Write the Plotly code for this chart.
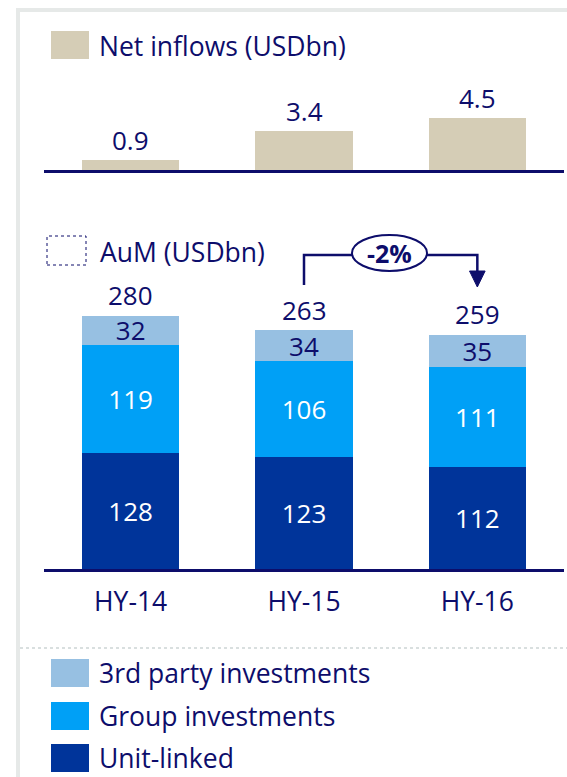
import plotly.graph_objects as go

categories = ["HY-14", "HY-15", "HY-16"]
net_inflows = [0.9, 3.4, 4.5]
third_party = [32, 34, 35]
group_inv = [119, 106, 111]
unit_linked = [128, 123, 112]
aum_total = [280, 263, 259]
change_label = "-2%"

W, H = 567, 777
NAVY = "#0d0d6b"
BEIGE = "#d5cdb6"
C_3RD = "#97c0e2"
C_GRP = "#00a0f6"
C_UL = "#00349a"
FRAME = "#e6e9e8"
FONT = "Open Sans"
FS = 26     # numbers
FT = 26.5   # texts


def px(x):
    return x / W


def py(y):
    return 1 - y / H


fig = go.Figure()

# top chart: net inflows
fig.add_trace(go.Bar(x=categories, y=net_inflows, marker=dict(color=BEIGE, line=dict(width=0)),
                     width=0.56, xaxis="x", yaxis="y", showlegend=False, hoverinfo="skip"))

# bottom chart: AuM stacked
for vals, col, tcol, name in [(unit_linked, C_UL, "white", "Unit-linked"),
                              (group_inv, C_GRP, "white", "Group investments"),
                              (third_party, C_3RD, NAVY, "3rd party investments")]:
    fig.add_trace(go.Bar(x=categories, y=vals, name=name, marker=dict(color=col, line=dict(width=0)),
                         width=0.56, xaxis="x2", yaxis="y2", showlegend=False,
                         text=[str(v) for v in vals], textposition="inside", textangle=0,
                         insidetextanchor="middle", constraintext="none",
                         textfont=dict(color=tcol, size=FS, family=FONT), hoverinfo="skip"))

annotations = []
for c, v in zip(categories, net_inflows):
    annotations.append(dict(x=c, y=v, xref="x", yref="y", text=f"{v:.1f}", showarrow=False,
                            yanchor="middle", yshift=20, font=dict(size=FS, color=NAVY, family=FONT)))
for c, v in zip(categories, aum_total):
    annotations.append(dict(x=c, y=v, xref="x2", yref="y2", text=str(v), showarrow=False,
                            yanchor="middle", yshift=20, font=dict(size=FS, color=NAVY, family=FONT)))

# legend texts
leg_font = dict(size=FT, color=NAVY, family=FONT)
annotations.append(dict(x=px(97), y=py(46), xref="paper", yref="paper", text="Net inflows (USDbn)",
                        showarrow=False, xanchor="left", yanchor="middle", font=leg_font))
annotations.append(dict(x=px(98), y=py(252), xref="paper", yref="paper", text="AuM (USDbn)",
                        showarrow=False, xanchor="left", yanchor="middle", font=leg_font))
legend_items = [("3rd party investments", C_3RD, 673), ("Group investments", C_GRP, 716),
                ("Unit-linked", C_UL, 758)]
shapes = []
for name, col, yc in legend_items:
    annotations.append(dict(x=px(97), y=py(yc), xref="paper", yref="paper", text=name,
                            showarrow=False, xanchor="left", yanchor="middle", font=leg_font))
    shapes.append(dict(type="rect", xref="paper", yref="paper", x0=px(51), x1=px(89),
                       y0=py(yc - 14), y1=py(yc + 14), fillcolor=col, line=dict(width=0)))

# frame
shapes.append(dict(type="line", xref="paper", yref="paper", x0=px(16), x1=1, y0=py(10), y1=py(10),
                   line=dict(color=FRAME, width=4)))
shapes.append(dict(type="line", xref="paper", yref="paper", x0=px(18), x1=px(18), y0=py(8), y1=0,
                   line=dict(color=FRAME, width=4)))
# dotted separator
shapes.append(dict(type="line", xref="paper", yref="paper", x0=px(20), x1=1, y0=py(648), y1=py(648),
                   line=dict(color="#d9dfdf", width=2, dash="dot")))
# net inflows legend key
shapes.append(dict(type="rect", xref="paper", yref="paper", x0=px(51), x1=px(89), y0=py(59), y1=py(31),
                   fillcolor=BEIGE, line=dict(width=0)))
# AuM legend key (dotted)
shapes.append(dict(type="rect", xref="paper", yref="paper", x0=px(47), x1=px(86), y0=py(265), y1=py(236),
                   fillcolor="rgba(0,0,0,0)", line=dict(color=NAVY, width=1, dash="dot")))

# change bracket between HY-15 and HY-16
shapes.append(dict(type="path", xref="x2", yref="paper",
                   path=f"M 1,{py(285)} L 1,{py(255)} L 2,{py(255)} L 2,{py(273)}",
                   line=dict(color=NAVY, width=2.5)))
shapes.append(dict(type="path", xref="x2", yref="paper",
                   path=f"M 1.955,{py(271)} L 2.045,{py(271)} L 2,{py(287)} Z",
                   fillcolor=NAVY, line=dict(color=NAVY, width=1)))
shapes.append(dict(type="circle", xref="paper", yref="paper", x0=px(352), x1=px(427),
                   y0=py(271), y1=py(235), fillcolor="white", line=dict(color=NAVY, width=2)))
annotations.append(dict(x=px(389.5), y=py(253), xref="paper", yref="paper", text=f"<b>{change_label}</b>",
                        showarrow=False, xanchor="center", yanchor="middle",
                        font=dict(size=25, color=NAVY, family=FONT)))

xdom = [px(44), px(564)]
fig.update_layout(
    width=W, height=H, margin=dict(l=0, r=0, t=0, b=0),
    paper_bgcolor="white", plot_bgcolor="rgba(0,0,0,0)",
    barmode="stack", bargap=0.44,
    uniformtext=dict(minsize=FS, mode="show"),
    xaxis=dict(domain=xdom, range=[-0.5, 2.5], anchor="y", showticklabels=False, ticks="",
               showgrid=False, zeroline=False, showline=True, linecolor=NAVY, linewidth=2.5),
    yaxis=dict(domain=[py(170), py(70)], range=[0, 100 / 11.6], visible=False, anchor="x"),
    xaxis2=dict(domain=xdom, range=[-0.5, 2.5], anchor="y2", ticks="", showgrid=False, zeroline=False,
                showline=True, linecolor=NAVY, linewidth=2.5, ticklabelstandoff=7,
                tickfont=dict(size=FT, color=NAVY, family=FONT)),
    yaxis2=dict(domain=[py(569), py(230)], range=[0, 339 / 0.907], visible=False, anchor="x2"),
    shapes=shapes, annotations=annotations,
)

fig.write_html("out.html", config={"displayModeBar": False},
               post_script="document.body.style.margin='0';document.body.style.overflow='hidden';")
